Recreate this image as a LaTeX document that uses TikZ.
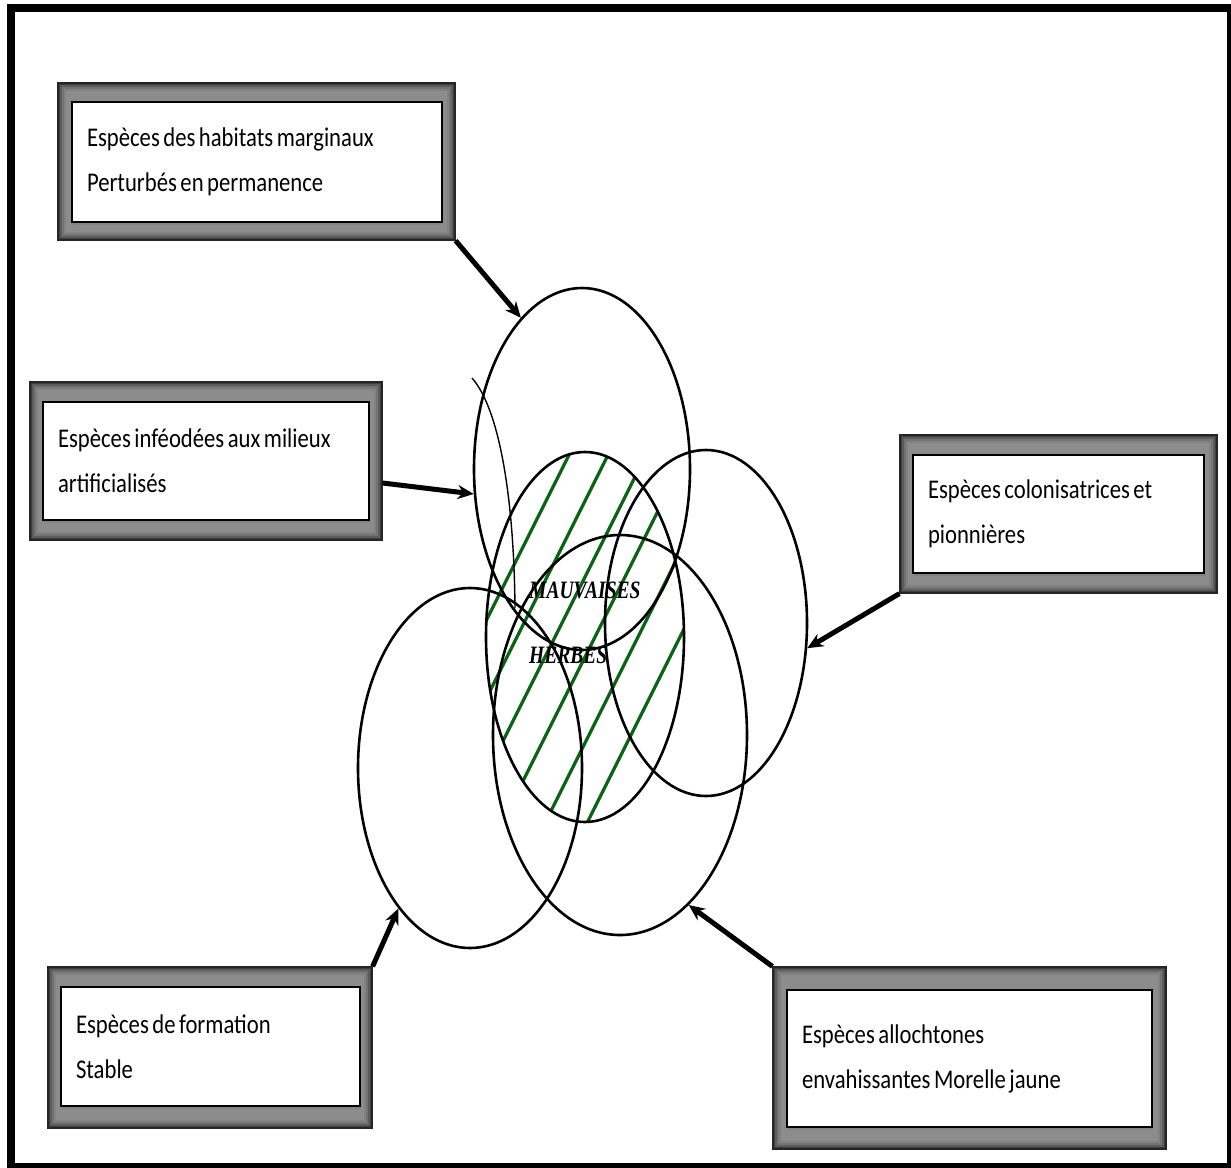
\documentclass[tikz,border=0pt]{standalone}
\usepackage{fontspec}
\setmainfont{Carlito}
\newfontfamily\labelfont[FakeStretch=0.84]{Carlito}
\newfontfamily\weedfont[FakeStretch=0.78]{Liberation Serif}
\usetikzlibrary{arrows.meta,shapes.geometric,shadows}

\definecolor{hatchgreen}{RGB}{8,100,20}

% tight word spacing for the label cards
\protected\def\tightwords{\spaceskip=3.5pt plus 1pt\xspaceskip=3.5pt plus 1pt\relax}

\tikzset{
  % grey bevelled frame around each label
  grayframe/.style={draw=black!85, line width=1.2pt, fill=black!76, inner sep=0pt,
    path picture={
      \foreach \d/\c in {2/64,4/55,6/49,8/45}{
        \fill[black!\c] ([shift={(\d,\d)}]path picture bounding box.north west)
          rectangle ([shift={(-\d,-\d)}]path picture bounding box.south east);
      }}},
  % white label card inside the frame
  lbl/.style={draw=black, line width=2pt, fill=white, inner xsep=15pt, inner ysep=0pt,
    align=left, font=\labelfont\fontsize{27}{45}\selectfont,
    execute at begin node=\tightwords,
    drop shadow={shadow xshift=1pt, shadow yshift=-3pt, opacity=0.7}},
  zone/.style={ellipse, draw=black, line width=2.6pt, inner sep=0pt},
  link/.style={line width=5pt, -{Stealth[length=16pt, width=14pt]}},
  hatch/.style={draw=hatchgreen, line width=3.2pt},
  weed/.style={font=\weedfont\bfseries\itshape\fontsize{25}{25}\selectfont,
    inner sep=0pt, anchor=west},
}

\begin{document}
\begin{tikzpicture}[x=1pt, y=-1pt]
\useasboundingbox (0,0) rectangle (1231,1167);
\fill[white] (0,0) rectangle (1231,1167);
\draw[line width=8pt] (11,8) rectangle (1231,1167);

% label frames and cards
\node[grayframe, minimum width=397, minimum height=157] (f1) at (256.5,161.5) {};
\node[lbl, minimum width=370, minimum height=120, text width=340] (t1) at (257,162)
  {Espèces des habitats marginaux\\Perturbés en permanence};

\node[grayframe, minimum width=352, minimum height=158] (f2) at (206,461) {};
\node[lbl, minimum width=326, minimum height=118, text width=296] (t2) at (206,461)
  {Espèces inféodées aux milieux\\artificialisés};

\node[grayframe, minimum width=317, minimum height=158] (f3) at (1058.5,514) {};
\node[lbl, minimum width=291, minimum height=118, text width=261] (t3) at (1058.5,514)
  {Espèces colonisatrices et\\pionnières};

\node[grayframe, minimum width=324, minimum height=161] (f4) at (210,1047.5) {};
\node[lbl, minimum width=299, minimum height=119, text width=269] (t4) at (210.5,1046.5)
  {Espèces de formation\\Stable};

\node[grayframe, minimum width=393, minimum height=182] (f5) at (969.5,1058) {};
\node[lbl, minimum width=365, minimum height=137, text width=335] (t5) at (969.5,1058.5)
  {Espèces allochtones\\envahissantes Morelle jaune};

% central hatched zone (hatch lines given relative to the node centre)
\node[zone, minimum width=198, minimum height=370,
  path picture={
    \foreach \x in {-107,-68,-30,10,53,95}{
      \draw[hatch] (\x-130,260) -- (\x+130,-260);
    }}] (e2) at (585,637) {};

% overlapping ecological groups
\node[zone, minimum width=216, minimum height=362] (e1) at (582,469) {};
\node[zone, minimum width=202, minimum height=346] (e3) at (706,623) {};
\node[zone, minimum width=224, minimum height=360] (e4) at (470,768) {};
\node[zone, minimum width=254, minimum height=400] (e5) at (620,735) {};

% thin inner arc
\draw[line width=1.4pt] (472,378) .. controls (500,410) and (514,500) .. (515,608);

\node[weed] (w1) at (529,590) {MAUVAISES};
\node[weed] (w2) at (529,655) {HERBES};

% arrows from the labels to the groups
\draw[link] (f1.south east) -- (e1.112.6);
\draw[link] ([yshift=-22pt]f2.east) -- (e1.193.4);
\draw[link] (f3.south west) -- (e3.-14.8);
\draw[link] (f4.north east) -- (e4.243.6);
\draw[link] (f5.north west) -- (e5.292.2);
\end{tikzpicture}
\end{document}
